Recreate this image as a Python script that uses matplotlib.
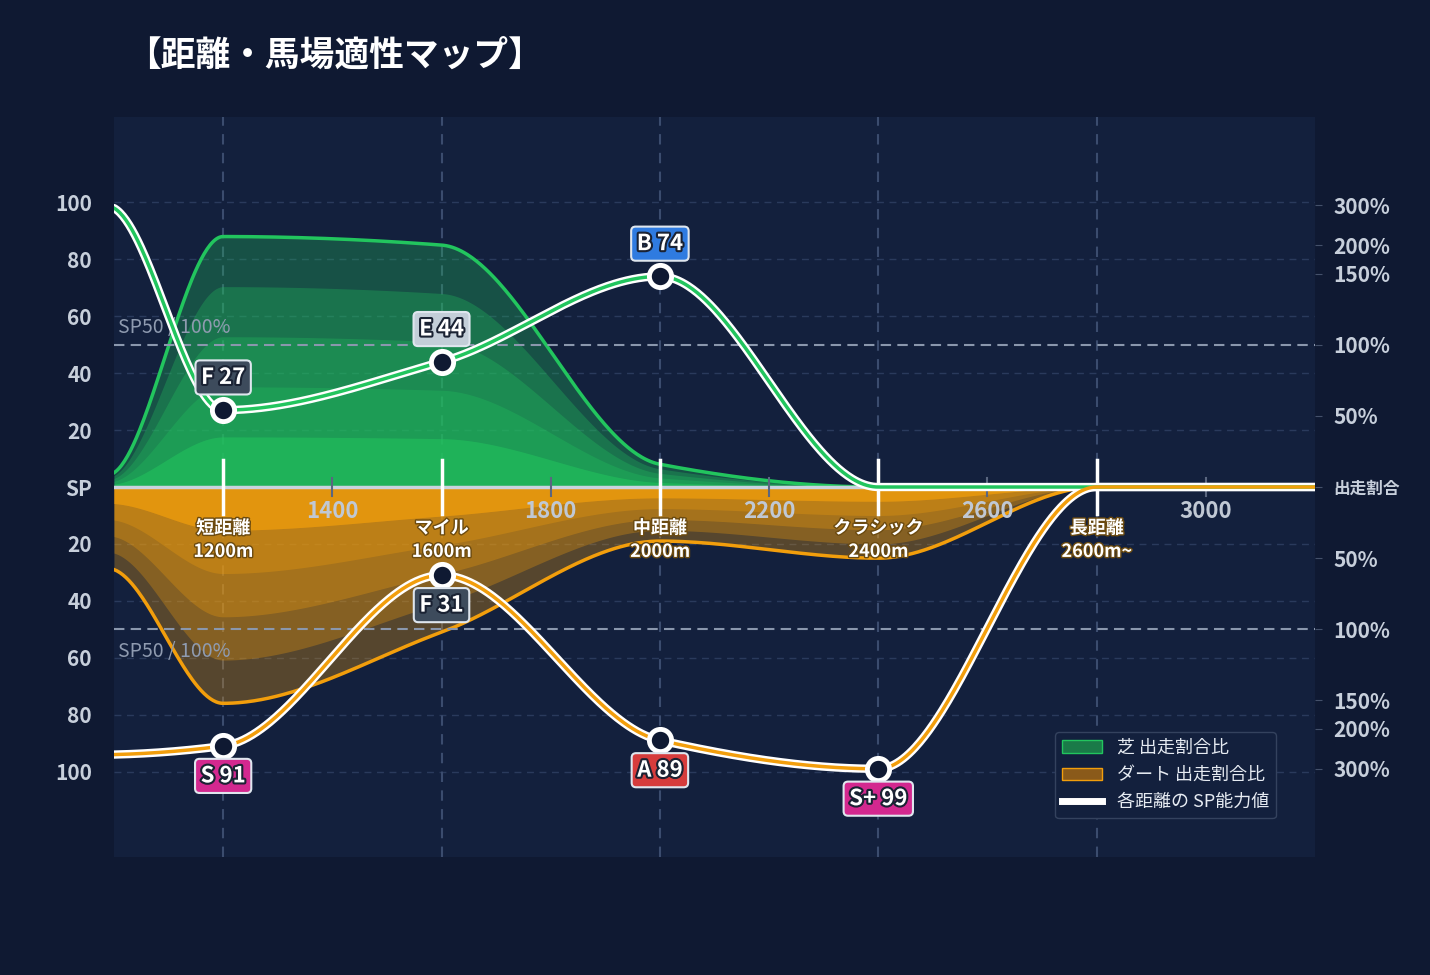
import numpy as np
import matplotlib.pyplot as plt
import matplotlib.patheffects as pe
from matplotlib.patches import Patch
from matplotlib.lines import Line2D

plt.rcParams['font.family'] = ['Noto Sans CJK JP', 'DejaVu Sans']

# data
dist = [1000, 1200, 1600, 2000, 2400, 2800, 3200]
turf_sp = [98, 27, 44, 74, 0, 0, 0]
dirt_sp = [94, 91, 31, 89, 99, 0, 0]
turf_share = [5, 88, 85, 8, 0, 0, 0]
dirt_share = [29, 76, 51, 19, 25, 0, 0]

cat_pos = [1200, 1600, 2000, 2400, 2800]
cat_names = ['短距離\n1200m', 'マイル\n1600m', '中距離\n2000m', 'クラシック\n2400m', '長距離\n2600m~']
minor_pos = [1400, 1800, 2200, 2600, 3000]

turf_marks = [(1200, 27, 'F 27', '#3d4b5c'), (1600, 44, 'E 44', '#c3ced8'), (2000, 74, 'B 74', '#2f7be0')]
dirt_marks = [(1200, 91, 'S 91', '#d3288f'), (1600, 31, 'F 31', '#3d4b5c'),
              (2000, 89, 'A 89', '#d63c3c'), (2400, 99, 'S+ 99', '#d3288f')]

pct_top = [(99, '300%'), (85, '200%'), (75, '150%'), (50, '100%'), (25, '50%')]

BG = '#0f1932'
AX_BG = '#13203d'
GREEN = '#22c55e'
ORANGE = '#f29e0c'


def pchip(x, y, xs):
    x = np.asarray(x, float); y = np.asarray(y, float)
    h = np.diff(x); d = np.diff(y) / h
    m = np.zeros_like(y)
    for i in range(1, len(x) - 1):
        if d[i - 1] * d[i] > 0:
            w1 = 2 * h[i] + h[i - 1]; w2 = h[i] + 2 * h[i - 1]
            m[i] = (w1 + w2) / (w1 / d[i - 1] + w2 / d[i])
    m[0] = d[0] if d[0] * (d[0]) > 0 else 0
    m[0] = 0 if abs(d[0]) < 1e-9 else d[0] * 0.3
    m[-1] = 0
    out = np.empty_like(xs)
    idx = np.clip(np.searchsorted(x, xs) - 1, 0, len(x) - 2)
    for j, xv in enumerate(xs):
        i = idx[j]; t = (xv - x[i]) / h[i]
        h00 = 2 * t**3 - 3 * t**2 + 1; h10 = t**3 - 2 * t**2 + t
        h01 = -2 * t**3 + 3 * t**2; h11 = t**3 - t**2
        out[j] = h00 * y[i] + h10 * h[i] * m[i] + h01 * y[i + 1] + h11 * h[i] * m[i + 1]
    return out


xs = np.linspace(1000, 3200, 800)
t_env = pchip(dist, turf_share, xs)
d_env = -pchip(dist, dirt_share, xs)
t_line = pchip(dist, turf_sp, xs)
d_line = -pchip(dist, dirt_sp, xs)

fig = plt.figure(figsize=(14.3, 9.75), dpi=100, facecolor=BG)
ax = fig.add_axes([0.0797, 0.121, 0.8399, 0.759])
ax.set_facecolor(AX_BG)
ax.set_xlim(1000, 3200)
ax.set_ylim(-130, 130)
for s in ax.spines.values():
    s.set_visible(False)

for y in range(-100, 101, 20):
    if y != 0:
        ax.axhline(y, color='#2a3a5c', lw=1, ls=(0, (5, 4)), zorder=1)
for x in cat_pos:
    ax.axvline(x, color='#3b4c6e', lw=1.5, ls=(0, (5, 4)), zorder=1)

for k in [1.0, 0.8, 0.6, 0.4, 0.2]:
    ax.fill_between(xs, 0, t_env * k, color=GREEN, alpha=0.3, lw=0, zorder=2)
    ax.fill_between(xs, 0, d_env * k, color=ORANGE, alpha=0.3, lw=0, zorder=2)
ax.fill_between(xs, 0, t_env * 0.2, color=GREEN, alpha=0.35, lw=0, zorder=2)
ax.fill_between(xs, 0, d_env * 0.2, color=ORANGE, alpha=0.6, lw=0, zorder=2)
ax.plot(xs, t_env, color=GREEN, lw=2.5, zorder=3)
ax.plot(xs, d_env, color=ORANGE, lw=2.5, zorder=3)
ax.axhline(0, color='#c9d3de', lw=2.5, zorder=4)

ax.axhline(50, color='#8a97ad', lw=1.5, ls=(0, (5, 3)), zorder=4)
ax.axhline(-50, color='#8a97ad', lw=1.5, ls=(0, (5, 3)), zorder=4)
ax.text(1008, 54, 'SP50 / 100%', color='#8f9bb0', fontsize=14, zorder=4)
ax.text(1008, -54, 'SP50 / 100%', color='#8f9bb0', fontsize=14, va='top', zorder=4)

for x in cat_pos:
    ax.plot([x, x], [-9.5, 9.5], color='white', lw=2.5, zorder=5)
for x in minor_pos:
    ax.plot([x, x], [-3, 3], color='#5a6680', lw=1.5, zorder=5)
    ax.text(x, -8.5, str(x), color='#c0c8d4', fontsize=16, fontweight='bold',
            ha='center', va='center', zorder=5)
for x, name in zip(cat_pos, cat_names):
    ax.text(x, -18.5, name, color='white', fontsize=13, fontweight='bold',
            ha='center', va='center', linespacing=1.3, zorder=6,
            path_effects=[pe.withStroke(linewidth=2, foreground='#6b4a10')])

for line, col in [(t_line, GREEN), (d_line, ORANGE)]:
    ax.plot(xs, line, color='white', lw=6, zorder=7, solid_capstyle='round')
    ax.plot(xs, line, color=col, lw=2.5, zorder=8)

stroke = [pe.withStroke(linewidth=3, foreground='#1a2233')]
for x, v, lab, col in turf_marks:
    ax.plot(x, v, 'o', ms=16, mfc='#0f1932', mec='white', mew=3.5, zorder=9)
    ax.text(x, v + 11.5, lab, color='white', fontsize=16, fontweight='bold', ha='center',
            va='center', zorder=10, path_effects=stroke,
            bbox=dict(boxstyle='round,pad=0.25,rounding_size=0.2', fc=col, ec='#dfe6ee', lw=1.5))
for x, v, lab, col in dirt_marks:
    ax.plot(x, -v, 'o', ms=16, mfc='#0f1932', mec='white', mew=3.5, zorder=9)
    ax.text(x, -v - 10.5, lab, color='white', fontsize=16, fontweight='bold', ha='center',
            va='center', zorder=10, path_effects=stroke,
            bbox=dict(boxstyle='round,pad=0.25,rounding_size=0.2', fc=col, ec='#dfe6ee', lw=1.5))

yt = [100, 80, 60, 40, 20, 0, -20, -40, -60, -80, -100]
ax.set_yticks(yt)
ax.set_yticklabels(['SP' if v == 0 else str(abs(v)) for v in yt])
ax.set_xticks([])
ax.tick_params(axis='y', length=0, pad=16, labelsize=15, labelcolor='#c7cfdb')
for t in ax.get_yticklabels():
    t.set_fontweight('bold')

ax2 = ax.twinx()
ax2.set_ylim(-130, 130)
for s in ax2.spines.values():
    s.set_visible(False)
rt = [v for v, _ in pct_top] + [0] + [-v for v, _ in pct_top]
rl = [l for _, l in pct_top] + ['出走割合'] + [l for _, l in pct_top]
ax2.set_yticks(rt)
ax2.set_yticklabels(rl)
ax2.tick_params(axis='y', length=5, color='#44506a', pad=8, labelsize=15, labelcolor='#c7cfdb')
for t in ax2.get_yticklabels():
    t.set_fontweight('bold')
    if t.get_text() == '出走割合':
        t.set_fontsize(12)

handles = [Patch(fc='#1a7a48', ec=GREEN, lw=1, label='芝 出走割合比'),
           Patch(fc='#8a5a1a', ec=ORANGE, lw=1, label='ダート 出走割合比'),
           Line2D([0], [0], color='white', lw=5, label='各距離の SP能力値')]
leg = ax2.legend(handles=handles, loc='lower right', bbox_to_anchor=(0.975, 0.04),
                 facecolor='#13203d', edgecolor='#34425e', labelcolor='#e6ebf2',
                 fontsize=13, framealpha=1, handlelength=2.2)
leg.set_zorder(20)

fig.text(0.088, 0.943, '【距離・馬場適性マップ】', color='white', fontsize=25,
         fontweight='bold', va='center')

fig.savefig('out.png', dpi=100, facecolor=BG)
